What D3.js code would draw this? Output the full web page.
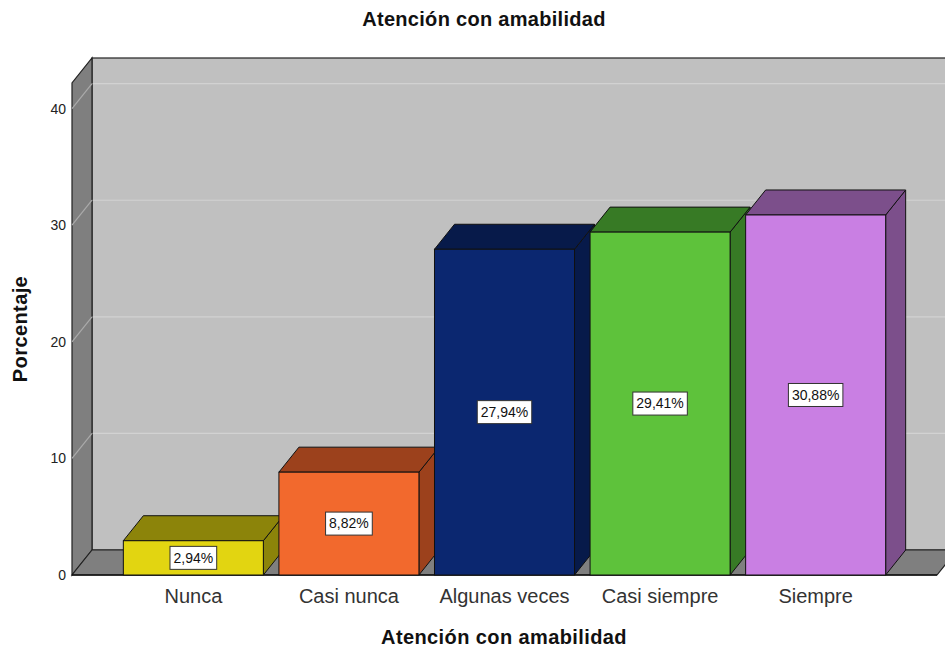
<!DOCTYPE html>
<html><head><meta charset="utf-8">
<script src="https://cdn.jsdelivr.net/npm/d3@7"></script>
<style>body{margin:0;background:#fff}svg{display:block}text{font-family:"Liberation Sans",Arial,sans-serif}</style>
</head><body>
<script>
const categories = ["Nunca","Casi nunca","Algunas veces","Casi siempre","Siempre"];
const values = [2.94, 8.82, 27.94, 29.41, 30.88];
const valueLabels = ["2,94%","8,82%","27,94%","29,41%","30,88%"];
const yTicks = [0,10,20,30,40];
const frontColors = ["#e2d511","#f2692d","#0b2770","#5ec23b","#c97fe3"];
const sideColors = ["#8c840a","#9c411c","#071a4a","#377a25","#7c4f8b"];

const W = 945, H = 649;
const dx = 20, dy = -25;
const svg = d3.select("body").append("svg").attr("width", W).attr("height", H);

const x = d3.scaleBand().domain(categories).range([72, 937]).paddingInner(0.1).paddingOuter(0.33);
const y = d3.scaleLinear().domain([0, 42.2]).range([575, 83]);

const x0 = 72, x1 = 937, y0 = y(0), yTop = y(42.2);
const wallFill = "#c0c0c0", sideWall = "#7f7f7f";

// back wall
svg.append("rect").attr("x", x0+dx).attr("y", yTop+dy).attr("width", x1 - x0 + 10).attr("height", y0 - yTop)
  .attr("fill", wallFill).attr("stroke", "#222").attr("stroke-width", 1.2);
// back gridlines
yTicks.filter(t => t > 0).forEach(t => {
  svg.append("line").attr("x1", x0+dx).attr("x2", x1+dx+10).attr("y1", y(t)+dy).attr("y2", y(t)+dy)
    .attr("stroke", "#d2d2d2").attr("stroke-width", 1.2);
});
// left wall
svg.append("path").attr("d", `M${x0},${y0}L${x0},${yTop}L${x0+dx},${yTop+dy}L${x0+dx},${y0+dy}Z`)
  .attr("fill", sideWall).attr("stroke", "#222").attr("stroke-width", 1.2);
yTicks.filter(t => t > 0).forEach(t => {
  svg.append("line").attr("x1", x0).attr("x2", x0+dx).attr("y1", y(t)).attr("y2", y(t)+dy)
    .attr("stroke", "#ababab").attr("stroke-width", 1.2);
});
// floor
svg.append("path").attr("d", `M${x0},${y0}L${x1},${y0}L${x1+dx},${y0+dy}L${x0+dx},${y0+dy}Z`)
  .attr("fill", sideWall).attr("stroke", "#222").attr("stroke-width", 1.2);
svg.append("line").attr("x1", x0).attr("x2", x1).attr("y1", y0).attr("y2", y0).attr("stroke", "#111").attr("stroke-width", 1.5);

// y tick labels
svg.selectAll(".yt").data(yTicks).join("text").attr("class","yt")
  .attr("x", 66).attr("y", d => y(d)).attr("dy", "0.35em").attr("text-anchor", "end")
  .attr("font-size", 14).attr("fill", "#222").text(d => d);

// bars
categories.forEach((c, i) => {
  const bx = x(c), bw = x.bandwidth(), by = y(values[i]);
  const g = svg.append("g");
  g.append("path").attr("d", `M${bx+bw},${y0}L${bx+bw},${by}L${bx+bw+dx},${by+dy}L${bx+bw+dx},${y0+dy}Z`)
    .attr("fill", sideColors[i]).attr("stroke", "#111").attr("stroke-width", 1);
  g.append("path").attr("d", `M${bx},${by}L${bx+dx},${by+dy}L${bx+bw+dx},${by+dy}L${bx+bw},${by}Z`)
    .attr("fill", sideColors[i]).attr("stroke", "#111").attr("stroke-width", 1);
  g.append("rect").attr("x", bx).attr("y", by).attr("width", bw).attr("height", y0 - by)
    .attr("fill", frontColors[i]).attr("stroke", "#111").attr("stroke-width", 1);
  const cx = bx + bw/2, cy = (by + y0)/2;
  const t = g.append("text").attr("x", cx).attr("y", cy).attr("dy", "0.35em").attr("text-anchor", "middle")
    .attr("font-size", 14).attr("fill", "#111").text(valueLabels[i]);
  const bb = t.node().getBBox();
  g.insert("rect", "text").attr("x", bb.x - 3.5).attr("y", cy - 11.5).attr("width", bb.width + 7).attr("height", 23)
    .attr("fill", "#fff").attr("stroke", "#333").attr("stroke-width", 1);
});

// category labels
svg.selectAll(".xl").data(categories).join("text").attr("class","xl")
  .attr("x", d => x(d) + x.bandwidth()/2).attr("y", 596).attr("dy", "0.35em").attr("text-anchor", "middle")
  .attr("font-size", 20).attr("fill", "#333").text(d => d);

// titles
svg.append("text").attr("x", 484).attr("y", 19).attr("dy", "0.35em").attr("text-anchor", "middle")
  .attr("font-size", 20).attr("letter-spacing", 0.3).attr("font-weight", "bold").attr("fill", "#111").text("Atención con amabilidad");
svg.append("text").attr("x", 504).attr("y", 637).attr("dy", "0.35em").attr("text-anchor", "middle")
  .attr("font-size", 20).attr("letter-spacing", 0.4).attr("font-weight", "bold").attr("fill", "#111").text("Atención con amabilidad");
svg.append("text").attr("transform", "translate(20,329) rotate(-90)").attr("dy", "0.35em").attr("text-anchor", "middle")
  .attr("font-size", 20).attr("letter-spacing", 0.4).attr("font-weight", "bold").attr("fill", "#111").text("Porcentaje");
</script>
</body></html>
